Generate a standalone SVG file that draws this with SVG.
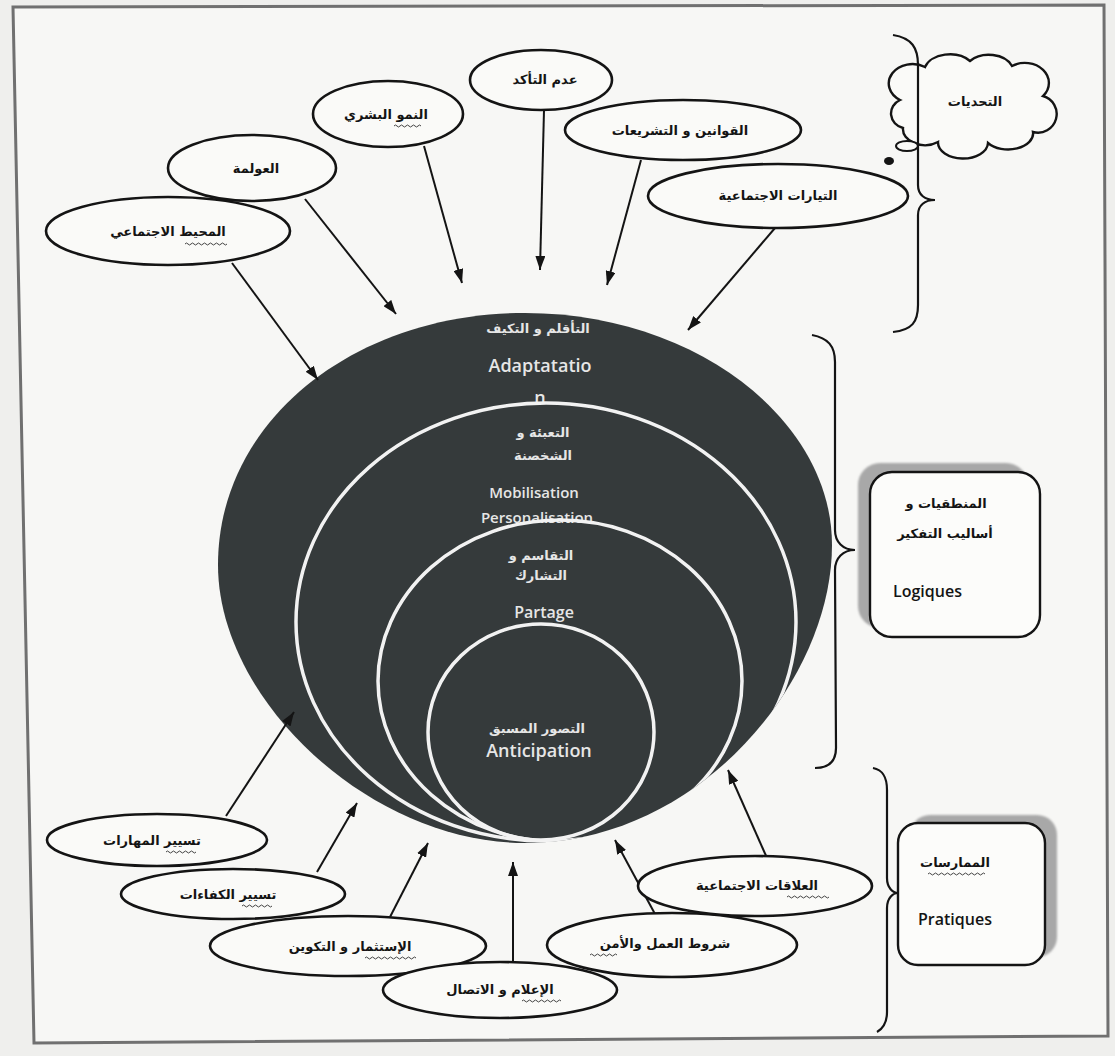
<svg xmlns="http://www.w3.org/2000/svg" width="1115" height="1056" viewBox="0 0 1115 1056">
<style>
.ar{font-family:"DejaVu Sans",sans-serif;font-weight:bold;font-size:13px;fill:#141414;text-anchor:middle}
.wt{fill:#e6e6e6}
.lat{font-family:"Open Sans","DejaVu Sans",sans-serif;font-weight:600;text-anchor:middle;fill:#e6e6e6}
.node ellipse{fill:#fafaf8;stroke:#141414;stroke-width:2.6}
.conn line{stroke:#141414;stroke-width:2;marker-end:url(#ah)}
.brace{fill:none;stroke:#141414;stroke-width:2.2}
.ring{fill:none;stroke:#f2f2f2;stroke-width:3.5}
.wavy{fill:none;stroke:#444;stroke-width:1}
.box{fill:#fcfcfa;stroke:#141414;stroke-width:2.4}
.shadow{fill:#a8a8a8}
.boxlat{font-family:"Open Sans","DejaVu Sans",sans-serif;font-weight:600;font-size:16px;fill:#141414}
</style>
<defs>
<marker id="ah" markerUnits="userSpaceOnUse" markerWidth="14" markerHeight="10" refX="14" refY="5" orient="auto">
<path d="M0,0 L14,5 L0,10 z" fill="#141414"/>
</marker>
<clipPath id="eggclip">
<path d="M525,313 C695,313 832,420 832,545 C832,680 700,843 525,843 C370,843 218,700 218,565 C218,420 355,313 525,313 Z"/>
</clipPath>
<filter id="blur" x="-10%" y="-10%" width="120%" height="120%"><feGaussianBlur stdDeviation="1.2"/></filter>
</defs>
<rect x="0" y="0" width="1115" height="1056" fill="#efefed"/>
<path d="M13,7 L1104,5 L1108,1036 L34,1043 Z" fill="#f7f7f5" stroke="#707070" stroke-width="3"/>

<g id="core">
<path d="M525,313 C695,313 832,420 832,545 C832,680 700,843 525,843 C370,843 218,700 218,565 C218,420 355,313 525,313 Z" fill="#353a3b"/>
<text class="ar wt" x="538" y="333">التأقلم و التكيف</text>
<text class="lat" x="540" y="372" font-size="18">Adaptatatio</text>
<text class="lat" x="540" y="404" font-size="18">n</text>
<g clip-path="url(#eggclip)">
<ellipse class="ring" cx="546" cy="622" rx="250" ry="219"/>
</g>
<text class="ar wt" x="543" y="437">التعبئة و</text>
<text class="ar wt" x="543" y="460">الشخصنة</text>
<text class="lat" x="534" y="498" font-size="15">Mobilisation</text>
<text class="lat" x="537" y="523" font-size="15">Personalisation</text>
<g clip-path="url(#eggclip)">
<ellipse class="ring" cx="560" cy="681" rx="182" ry="161"/>
</g>
<text class="ar wt" x="541" y="560">التقاسم و</text>
<text class="ar wt" x="541" y="580">التشارك</text>
<text class="lat" x="544" y="618" font-size="16">Partage</text>
<g clip-path="url(#eggclip)">
<ellipse class="ring" cx="541" cy="732" rx="113" ry="108"/>
</g>
<text class="ar wt" x="537" y="733" font-size="14">التصور المسبق</text>
<text class="lat" x="539" y="757" font-size="18">Anticipation</text>
</g>

<g id="connectors" class="conn">
<line x1="232" y1="263" x2="318" y2="380"/>
<line x1="305" y1="199" x2="396" y2="314"/>
<line x1="424" y1="146" x2="462" y2="283"/>
<line x1="544" y1="110" x2="540" y2="270"/>
<line x1="641" y1="160" x2="607" y2="285"/>
<line x1="775" y1="228" x2="688" y2="330"/>
<line x1="226" y1="816" x2="294" y2="712"/>
<line x1="317" y1="872" x2="357" y2="803"/>
<line x1="390" y1="917" x2="428" y2="843"/>
<line x1="513" y1="963" x2="513" y2="862"/>
<line x1="655" y1="914" x2="615" y2="840"/>
<line x1="767" y1="858" x2="728" y2="770"/>
</g>

<g id="n-mohit" class="node"><ellipse cx="168" cy="231" rx="122" ry="34"/><text class="ar" x="168" y="236">المحيط الاجتماعي</text><path class="wavy" d="M185,244 q1.5,-2 3,0 t3,0 t3,0 t3,0 t3,0 t3,0 t3,0 t3,0 t3,0 t3,0 t3,0 t3,0 t3,0 t3,0"/></g>
<g id="n-awlama" class="node"><ellipse cx="252" cy="168" rx="84" ry="33"/><text class="ar" x="256" y="173">العولمة</text></g>
<g id="n-numuw" class="node"><ellipse cx="388" cy="114" rx="75" ry="33"/><text class="ar" x="386" y="119">النمو البشري</text><path class="wavy" d="M394,126 q1.5,-2 3,0 t3,0 t3,0 t3,0 t3,0 t3,0 t3,0 t3,0 t3,0"/></g>
<g id="n-adam" class="node"><ellipse cx="541" cy="80" rx="71" ry="30"/><text class="ar" x="545" y="84">عدم التأكد</text></g>
<g id="n-qawanin" class="node"><ellipse cx="683" cy="130" rx="118" ry="30"/><text class="ar" x="680" y="135">القوانين و التشريعات</text></g>
<g id="n-tayarat" class="node"><ellipse cx="778" cy="196" rx="130" ry="32"/><text class="ar" x="778" y="200">التيارات الاجتماعية</text></g>

<g id="n-challenges">
<path d="M900,100 A22,18 0 0 1 925,67 A26,18 0 0 1 970,61 A25,18 0 0 1 1012,66 A24,20 0 0 1 1043,96 A18,18 0 0 1 1033,132 A25,16 0 0 1 988,143 A25,16 0 0 1 938,142 A22,16 0 0 1 903,128 A16,15 0 0 1 900,100 Z" fill="#fafaf8" stroke="#141414" stroke-width="2.4"/>
<ellipse cx="907" cy="146" rx="11" ry="5" fill="#fafaf8" stroke="#141414" stroke-width="2"/>
<ellipse cx="889" cy="161" rx="5" ry="4" fill="#141414"/>
<text class="ar" x="975" y="106">التحديات</text>
</g>

<g id="braces">
<path class="brace" d="M893,35 C912,38 918,48 918,65 L918,185 C918,195 925,200 935,200 C925,200 918,205 918,215 L918,305 C918,322 912,330 893,332"/>
<path class="brace" d="M812,335 C828,338 835,346 835,362 L835,530 C835,542 843,550 855,550 C843,550 835,558 835,570 L836,748 C836,762 828,768 815,768"/>
<path class="brace" d="M873,768 C883,770 887,777 887,790 L887,878 C887,888 893,893 898,893 C893,893 887,898 887,908 L887,1012 C887,1022 884,1028 877,1032"/>
</g>

<g id="n-logiques">
<rect class="shadow" x="858" y="463" width="170" height="165" rx="22" filter="url(#blur)"/>
<rect class="box" x="870" y="472" width="170" height="165" rx="22"/>
<text class="ar" x="946" y="508">المنطقيات و</text>
<text class="ar" x="945" y="538">أساليب التفكير</text>
<text class="boxlat" x="893" y="597">Logiques</text>
</g>

<g id="n-pratiques">
<rect class="shadow" x="910" y="815" width="147" height="142" rx="20" filter="url(#blur)"/>
<rect class="box" x="898" y="823" width="147" height="142" rx="20"/>
<text class="ar" x="955" y="867">الممارسات</text>
<path class="wavy" d="M928,874 q1.5,-2 3,0 t3,0 t3,0 t3,0 t3,0 t3,0 t3,0 t3,0 t3,0 t3,0 t3,0 t3,0 t3,0 t3,0 t3,0 t3,0 t3,0 t3,0 t3,0"/>
<text class="boxlat" x="918" y="925">Pratiques</text>
</g>

<g id="n-maharat" class="node"><ellipse cx="157" cy="840" rx="110" ry="26"/><text class="ar" x="152" y="845">تسيير المهارات</text><path class="wavy" d="M166,852 q1.5,-2 3,0 t3,0 t3,0 t3,0 t3,0 t3,0 t3,0 t3,0 t3,0 t3,0"/></g>
<g id="n-kafaat" class="node"><ellipse cx="233" cy="894" rx="112" ry="25"/><text class="ar" x="228" y="899">تسيير الكفاءات</text><path class="wavy" d="M242,906 q1.5,-2 3,0 t3,0 t3,0 t3,0 t3,0 t3,0 t3,0 t3,0 t3,0 t3,0"/></g>
<g id="n-istithmar" class="node"><ellipse cx="348" cy="946" rx="138" ry="30"/><text class="ar" x="350" y="951">الإستثمار و التكوين</text><path class="wavy" d="M365,958 q1.5,-2 3,0 t3,0 t3,0 t3,0 t3,0 t3,0 t3,0 t3,0 t3,0 t3,0 t3,0 t3,0 t3,0 t3,0 t3,0 t3,0 t3,0"/></g>
<g id="n-amn" class="node"><ellipse cx="672" cy="945" rx="125" ry="32"/><text class="ar" x="665" y="948">شروط العمل والأمن</text><path class="wavy" d="M590,955 q1.5,-2 3,0 t3,0 t3,0 t3,0 t3,0 t3,0 t3,0 t3,0 t3,0"/></g>
<g id="n-alaqat" class="node"><ellipse cx="755" cy="886" rx="117" ry="30"/><text class="ar" x="757" y="890">العلاقات الاجتماعية</text><path class="wavy" d="M787,897 q1.5,-2 3,0 t3,0 t3,0 t3,0 t3,0 t3,0 t3,0 t3,0 t3,0 t3,0 t3,0 t3,0 t3,0 t3,0"/></g>
<g id="n-ilam" class="node"><ellipse cx="500" cy="990" rx="117" ry="28"/><text class="ar" x="500" y="994">الإعلام و الاتصال</text><path class="wavy" d="M522,1001 q1.5,-2 3,0 t3,0 t3,0 t3,0 t3,0 t3,0 t3,0 t3,0 t3,0 t3,0 t3,0 t3,0 t3,0"/></g>
</svg>
